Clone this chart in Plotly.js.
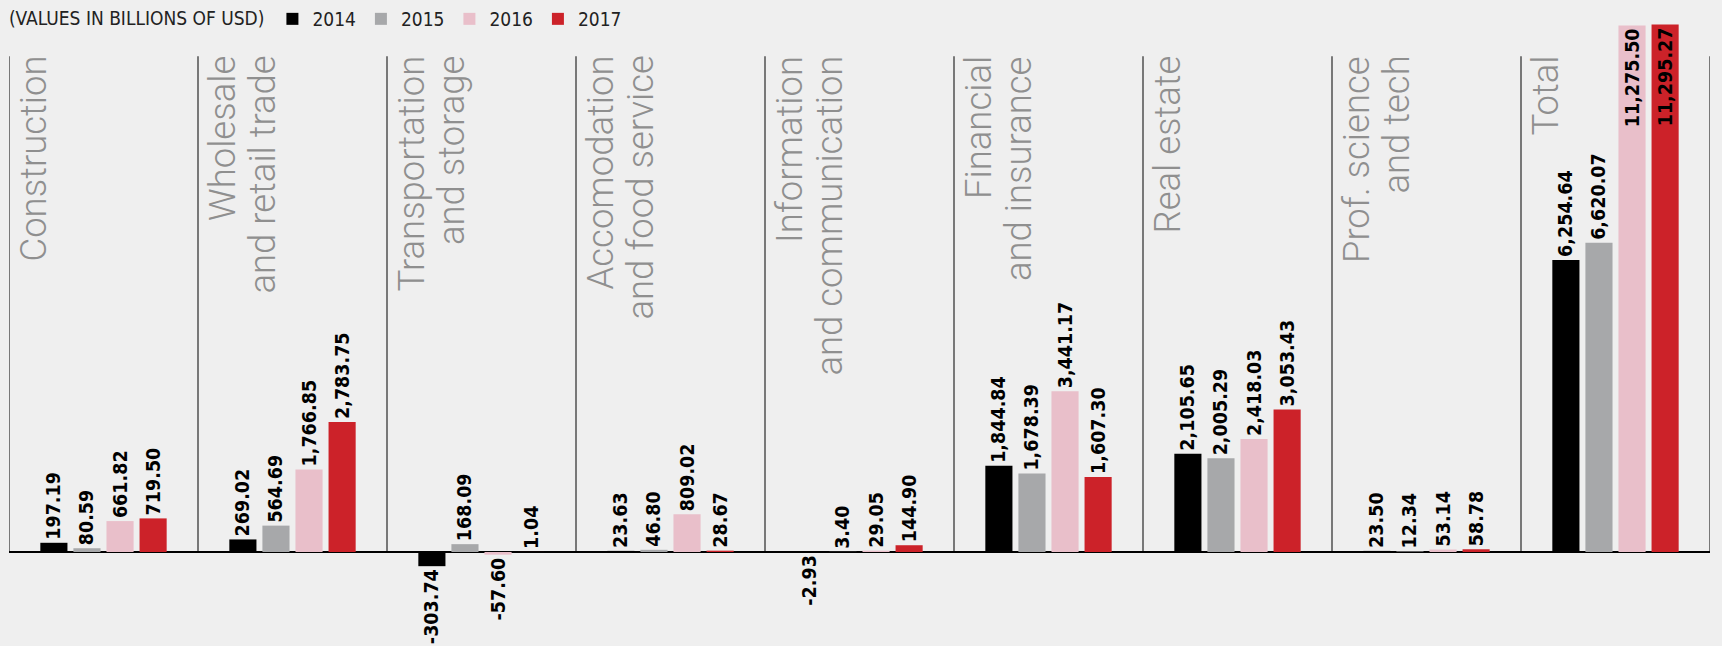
<!DOCTYPE html>
<html><head><meta charset="utf-8">
<script src="https://cdn.plot.ly/plotly-3.0.1.min.js"></script>
<style>html,body{margin:0;padding:0;background:#efefef;}#chart{width:1722px;height:646px;}</style>
</head><body><div id="chart"></div>
<script>
const categories = ["Construction","Wholesale and retail trade","Transportation and storage","Accomodation and food service","Information and communication","Financial and insurance","Real estate","Prof. science and tech","Total"];
const labelLine1 = ["Construction","Wholesale","Transportation","Accomodation","Information","Financial","Real estate","Prof. science","Total"];
const labelLine2 = ["","and retail trade","and storage","and food service","and communication","and insurance","","and tech",""];
const years = ["2014","2015","2016","2017"];
const values2014 = [197.19, 269.02, -303.74, 23.63, -2.93, 1844.84, 2105.65, 23.50, 6254.64];
const values2015 = [80.59, 564.69, 168.09, 46.80, 3.40, 1678.39, 2005.29, 12.34, 6620.07];
const values2016 = [661.82, 1766.85, -57.60, 809.02, 29.05, 3441.17, 2418.03, 53.14, 11275.50];
const values2017 = [719.50, 2783.75, 1.04, 28.67, 144.90, 1607.30, 3053.43, 58.78, 11295.27];
const seriesColors = ["#000000","#a7a8aa","#e9bfca","#cc2229"];

const series = [values2014, values2015, values2016, values2017];
const allVals = series.flat();
const maxVal = Math.max(...allVals);
const xIdx = categories.map((c,i)=>i);
const yRange = [-2013, 11392];

const narrow = "'Liberation Sans Narrow', 'Arial Narrow', 'DejaVu Sans Condensed', sans-serif";
const valueFont = {family: narrow, size: 19.5, color: '#000', weight: 'bold'};

const traces = series.map((vals, s) => ({
  type: 'bar',
  name: years[s],
  x: xIdx,
  y: vals,
  marker: {color: seriesColors[s], line: {width: 0}},
  texttemplate: '%{y:,.2f}',
  textposition: vals.map(v => v > 0.9*maxVal ? 'inside' : 'outside'),
  insidetextanchor: 'end',
  textangle: -90,
  constraintext: 'none',
  cliponaxis: false,
  textfont: valueFont,
  insidetextfont: valueFont,
  outsidetextfont: valueFont,
  hoverinfo: 'skip'
}));

const shapes = [];
for (let k = 0; k <= categories.length; k++) {
  shapes.push({type:'line', xref:'x', yref:'y', x0:k-0.5, x1:k-0.5, y0:0, y1:yRange[1]*0.932,
    line:{color:'#383838', width:1.3}, layer:'below'});
}

const annotations = [];
const labelFont = {family: "Roboto, 'Liberation Sans', sans-serif", size: 36.5, color: '#8f8f8f', weight: 300};
categories.forEach((c,i) => {
  annotations.push({xref:'x', yref:'paper', x:i-0.5, y:0.944, xanchor:'center', yanchor:'top',
    xshift:24.5, text:labelLine1[i], textangle:-90, showarrow:false, font:labelFont, borderpad:0});
  if (labelLine2[i]) {
    annotations.push({xref:'x', yref:'paper', x:i-0.5, y:0.944, xanchor:'center', yanchor:'top',
      xshift:64.5, text:labelLine2[i], textangle:-90, showarrow:false, font:labelFont, borderpad:0});
  }
});

const layout = {
  width: 1722, height: 646,
  margin: {l: 9, r: 12, t: 20, b: 0, pad: 0, autoexpand: false},
  paper_bgcolor: '#efefef', plot_bgcolor: '#efefef',
  barmode: 'group', bargap: 0.30, bargroupgap: 0.18,
  xaxis: {range: [-0.5, categories.length-0.5], showticklabels: false, showgrid: false, zeroline: false, showline: false, ticks: ''},
  yaxis: {range: yRange, showticklabels: false, showgrid: false, zeroline: true, zerolinecolor: '#000', zerolinewidth: 2.5, showline: false, ticks: ''},
  showlegend: true,
  legend: {orientation: 'h', xref: 'container', yref: 'container', x: 0.004, y: 1, xanchor: 'left', yanchor: 'top',
    bgcolor: 'rgba(0,0,0,0)', font: {family: narrow, size: 19, color: '#222'},
    title: {text: '(VALUES IN BILLIONS OF USD)', side: 'left', font: {family: narrow, size: 19, color: '#222'}},
    traceorder: 'normal'},
  shapes: shapes,
  annotations: annotations,
  hovermode: false
};

Plotly.newPlot('chart', traces, layout, {displayModeBar: false, staticPlot: true});
</script></body></html>
